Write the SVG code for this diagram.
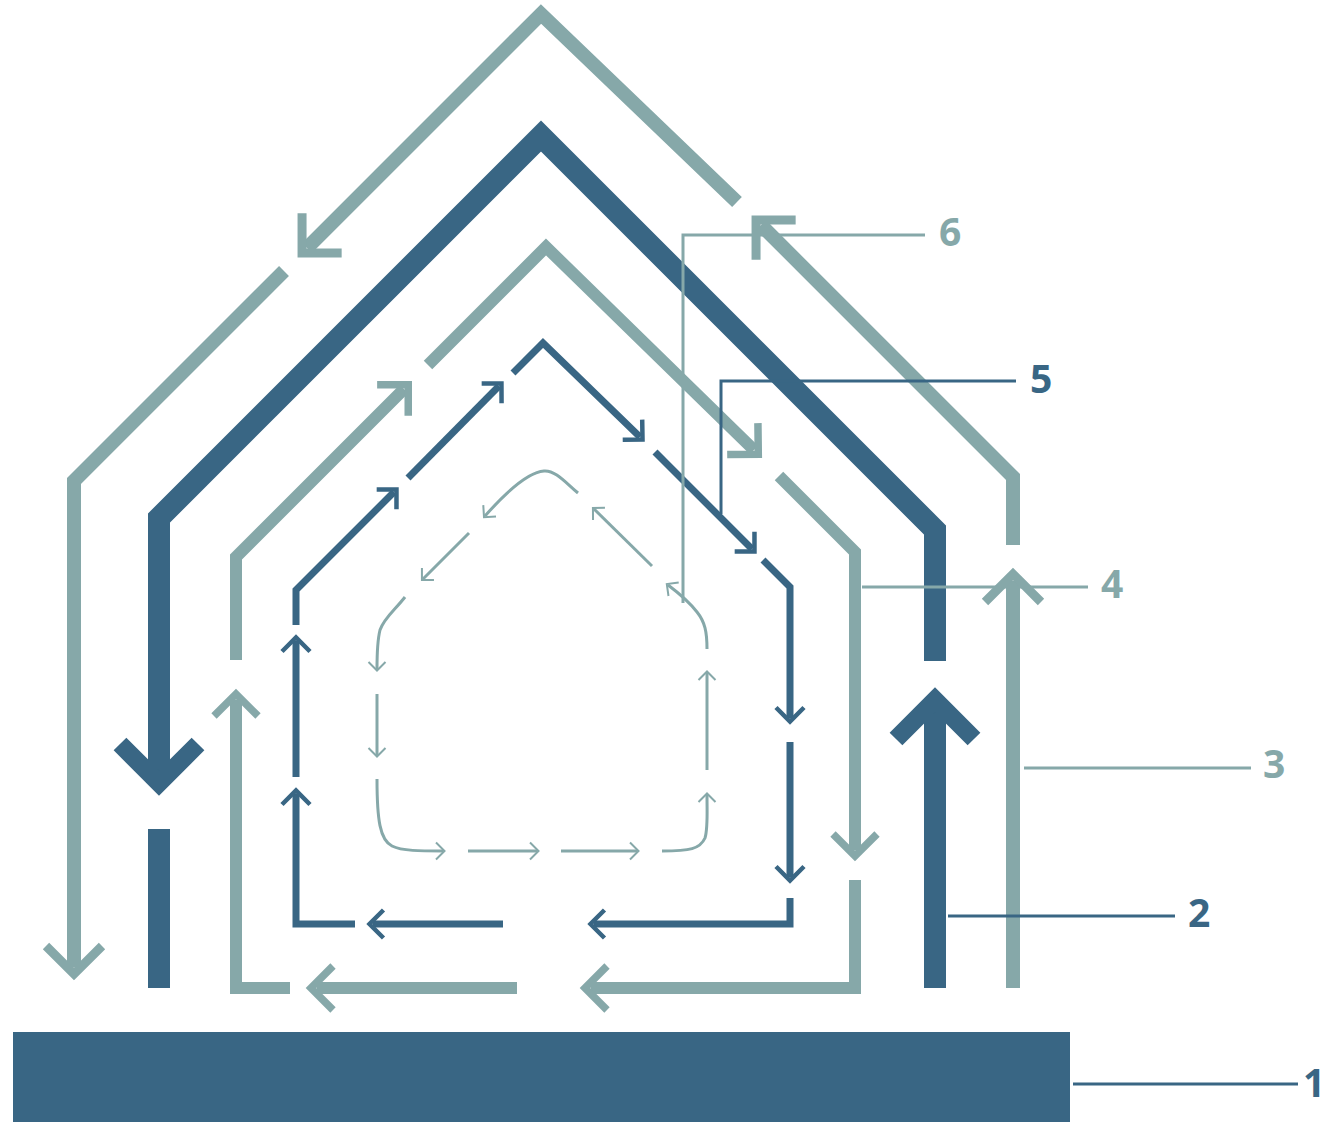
<svg xmlns="http://www.w3.org/2000/svg" width="1325" height="1124" viewBox="0 0 1325 1124">
<style>
.lt{fill:none;stroke:#86a8a9;stroke-linejoin:miter;stroke-linecap:butt}
.dk{fill:none;stroke:#396684;stroke-linejoin:miter;stroke-linecap:butt}
.wA{stroke-width:14}.wB{stroke-width:22}.wC{stroke-width:12}.wD{stroke-width:7}.wE{stroke-width:3}.wL{stroke-width:3}
.lbl{font-family:"Open Sans","Liberation Sans",sans-serif;font-weight:700;font-size:39px}
</style>
<defs>
<marker id="mA" markerUnits="userSpaceOnUse" viewBox="-60 -60 120 120" markerWidth="120" markerHeight="120" refX="0" refY="0" orient="auto"><path d="M-21,-28 L7,0 L-21,28" fill="none" stroke="#86a8a9" stroke-width="9"/></marker>
<marker id="mB" markerUnits="userSpaceOnUse" viewBox="-70 -70 140 140" markerWidth="140" markerHeight="140" refX="0" refY="0" orient="auto"><path d="M-28,-39 L11,0 L-28,39" fill="none" stroke="#396684" stroke-width="18"/></marker>
<marker id="mC" markerUnits="userSpaceOnUse" viewBox="-50 -50 100 100" markerWidth="100" markerHeight="100" refX="0" refY="0" orient="auto"><path d="M-16,-22 L6,0 L-16,22" fill="none" stroke="#86a8a9" stroke-width="7.5"/></marker>
<marker id="mD" markerUnits="userSpaceOnUse" viewBox="-40 -40 80 80" markerWidth="80" markerHeight="80" refX="0" refY="0" orient="auto"><path d="M-10.5,-14 L3.5,0 L-10.5,14" fill="none" stroke="#396684" stroke-width="4.5"/></marker>
<marker id="mE" markerUnits="userSpaceOnUse" viewBox="-20 -20 40 40" markerWidth="40" markerHeight="40" refX="0" refY="0" orient="auto"><path d="M-7,-8.5 L1.5,0 L-7,8.5" fill="none" stroke="#86a8a9" stroke-width="2"/></marker>
</defs>

<g id="base">
<rect x="13" y="1032" width="1057" height="90" fill="#396684"/>
</g>

<g id="connectors">
<g id="loopA" class="lt wA">
<path d="M737,202 L541,14 L307,248" marker-end="url(#mA)"/>
<path d="M284,271 L74,481 V967" marker-end="url(#mA)"/>
<path d="M1013,988 V581" marker-end="url(#mA)"/>
<path d="M1013,545 V477 L761,225" marker-end="url(#mA)"/>
</g>
<g id="loopB" class="dk wB">
<path d="M159,988 V829"/>
<path d="M935,661 V530 L541,136 L159,518 V772" marker-end="url(#mB)"/>
<path d="M935,988 V711" marker-end="url(#mB)"/>
</g>
<g id="loopC" class="lt wC">
<path d="M236,660 V557 L404,389" marker-end="url(#mC)"/>
<path d="M428,365 L546,247 L754,450" marker-end="url(#mC)"/>
<path d="M779,476 L855,552 V850" marker-end="url(#mC)"/>
<path d="M855,880 V988 H591" marker-end="url(#mC)"/>
<path d="M517,988 H317" marker-end="url(#mC)"/>
<path d="M290,988 H236 V700" marker-end="url(#mC)"/>
</g>
<g id="loopD" class="dk wD">
<path d="M296,625 V590 L394,492" marker-end="url(#mD)"/>
<path d="M408,478 L499,386" marker-end="url(#mD)"/>
<path d="M513,373 L543,343 L640,437" marker-end="url(#mD)"/>
<path d="M655,452 L752,549" marker-end="url(#mD)"/>
<path d="M763,560 L790,587 V718" marker-end="url(#mD)"/>
<path d="M790,742 V877" marker-end="url(#mD)"/>
<path d="M790,898 V924 H594" marker-end="url(#mD)"/>
<path d="M503,924 H373" marker-end="url(#mD)"/>
<path d="M355,924 H296 V794" marker-end="url(#mD)"/>
<path d="M296,777 V641" marker-end="url(#mD)"/>
</g>
<g id="loopE" class="lt wE">
<path d="M578,493 C565,482 555,470 544,471 C530,472 508,490 485,516" marker-end="url(#mE)"/>
<path d="M469,533 L423,579" marker-end="url(#mE)"/>
<path d="M405,597 C395,610 384,618 380,630 C377,642 377,655 377,669" marker-end="url(#mE)"/>
<path d="M377,694 V755" marker-end="url(#mE)"/>
<path d="M377,779 C377,820 380,840 392,846 C402,851 420,851 443,851" marker-end="url(#mE)"/>
<path d="M468,851 H537" marker-end="url(#mE)"/>
<path d="M561,851 H637" marker-end="url(#mE)"/>
<path d="M662,851 C690,851 700,849 705,838 C708,828 707,815 707,795" marker-end="url(#mE)"/>
<path d="M707,770 V673" marker-end="url(#mE)"/>
<path d="M707,649 C707,632 705,622 697,612 C690,603 680,594 668,585" marker-end="url(#mE)"/>
<path d="M652,566 L594,509" marker-end="url(#mE)"/>
</g>
</g>

<g id="label-1"><path class="dk wL" d="M1073,1084 H1298"/><text class="lbl" x="1303" y="1097" fill="#396684">1</text></g>
<g id="label-2"><path class="dk wL" d="M948,916 H1175"/><text class="lbl" x="1188" y="927" fill="#396684">2</text></g>
<g id="label-3"><path class="lt wL" d="M1024,768 H1251"/><text class="lbl" x="1263" y="778" fill="#86a8a9">3</text></g>
<g id="label-4"><path class="lt wL" d="M862,587 H1088"/><text class="lbl" x="1101" y="598" fill="#86a8a9">4</text></g>
<g id="label-5"><path class="dk wL" d="M1016,381 H721 V514"/><text class="lbl" x="1030" y="393" fill="#396684">5</text></g>
<g id="label-6"><path class="lt wL" d="M925,235 H683 V603"/><text class="lbl" x="939" y="246" fill="#86a8a9">6</text></g>
</svg>
